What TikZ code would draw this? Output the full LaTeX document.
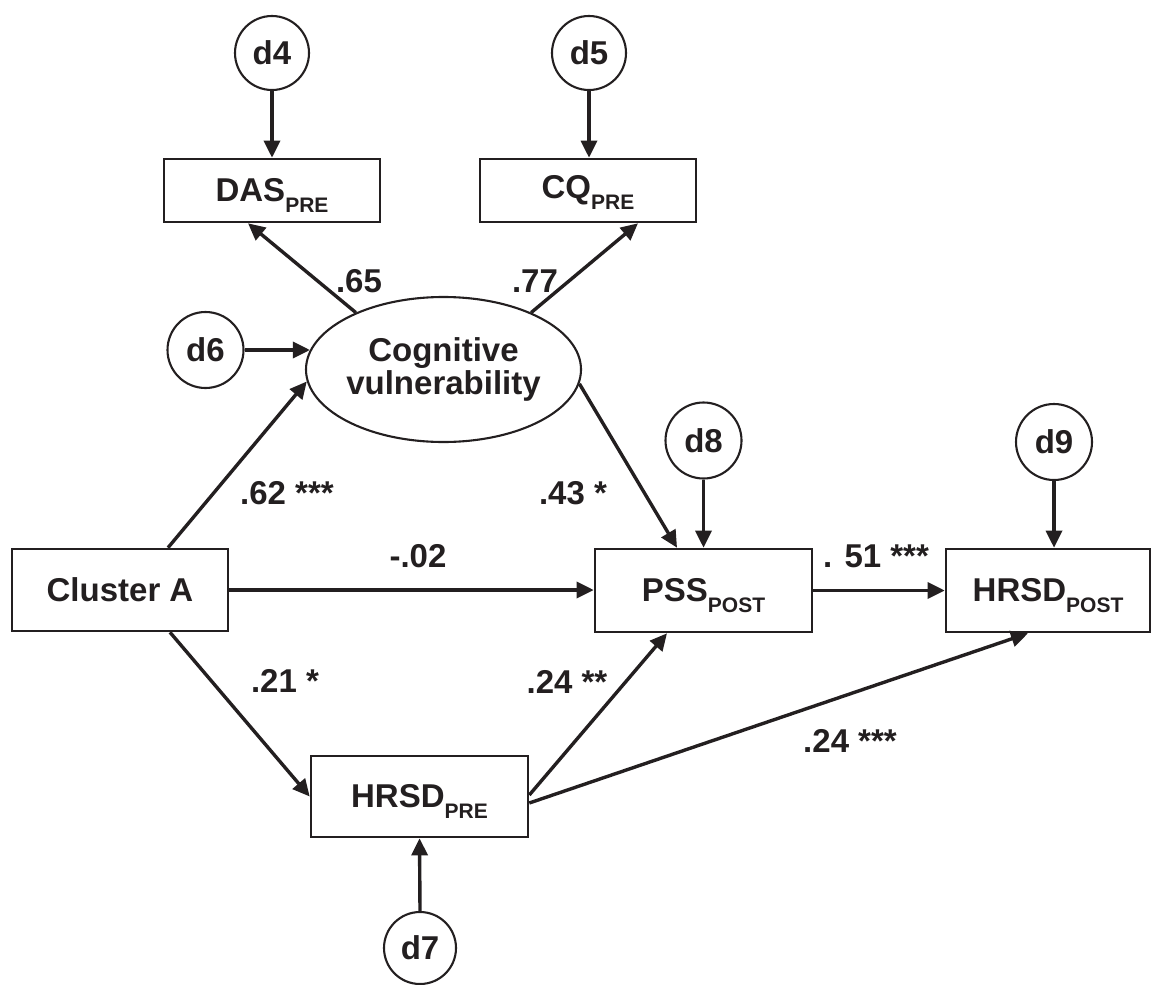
\documentclass[tikz,border=0pt]{standalone}
\usepackage{fontspec}
\setmainfont{Liberation Sans}
\usetikzlibrary{arrows.meta,shapes.geometric}
\definecolor{ink}{RGB}{35,31,32}
\newcommand\sbs[1]{\smash{\raisebox{-5.5pt}{\fontsize{10.5}{12}\selectfont #1}}}
\begin{document}
\begin{tikzpicture}[x=0.5pt,y=-0.5pt,
  font=\fontsize{16.5}{15}\selectfont\bfseries,
  boxnode/.style={draw=ink,line width=1.3pt,rectangle,inner sep=0pt,text=ink},
  dcirc/.style={draw=ink,circle,line width=1.05pt,minimum size=37pt,inner sep=0pt,text=ink},
  arr/.style={draw=ink,line width=1.7pt,-{Triangle[length=8.5pt,width=8pt]}},
  lbl/.style={anchor=base,text=ink,inner sep=0pt}]
\useasboundingbox (0,0) rectangle (1155,984);
% nodes
\node[dcirc] (d4) at (272,53) {d4};
\node[dcirc] (d5) at (589,53) {d5};
\node[boxnode,minimum width=108pt,minimum height=31.5pt] (das) at (272,190.5) {DAS\sbs{PRE}};
\node[boxnode,minimum width=108pt,minimum height=31.5pt] (cq) at (588,190.5) {CQ\sbs{PRE}};
\node[draw=ink,ellipse,line width=1.05pt,minimum width=137.5pt,minimum height=72.5pt,inner sep=0pt,align=center,text=ink] (cv) at (443.5,369.5) {Cognitive\\vulnerability};
\node[dcirc,minimum size=38pt] (d6) at (205.5,350) {d6};
\node[boxnode,minimum width=108pt,minimum height=41pt] (ca) at (120,590) {Cluster A};
\node[boxnode,minimum width=108.5pt,minimum height=41.5pt] (pss) at (703.5,590.5) {PSS\sbs{POST}};
\node[boxnode,minimum width=102pt,minimum height=41.5pt] (hpost) at (1048,590.5) {HRSD\sbs{POST}};
\node[dcirc,minimum size=38pt] (d8) at (703.5,440.5) {d8};
\node[dcirc,minimum size=38pt] (d9) at (1054,442) {d9};
\node[boxnode,minimum width=108.5pt,minimum height=40.5pt] (hpre) at (419.5,796.5) {HRSD\sbs{PRE}};
\node[dcirc,minimum size=36pt] (d7) at (420,948) {d7};
% connectors
\draw[arr] (d4.south) -- (das.north);
\draw[arr] (d5.south) -- (d5.south |- cq.north);
\draw[arr] (d6.east) -- ([xshift=2.5pt]cv.west |- d6.east);
\draw[arr] (cv.147) -- ([xshift=-12pt]das.south);
\draw[arr] (cv.33) -- ([xshift=25pt]cq.south);
\draw[arr] ([xshift=24pt]ca.north) -- (cv.185.7);
\draw[arr] (ca.east) -- (ca.east -| pss.west);
\draw[arr] ([xshift=25pt]ca.south) -- (hpre.west);
\draw[arr] (cv.-6.7) -- ([xshift=-13.25pt]pss.north);
\draw[arr] (d8.south) -- (pss.north);
\draw[arr] (d9.south) -- (d9.south |- hpost.north);
\draw[arr] (pss.east) -- (pss.east -| hpost.west);
\draw[arr] ([yshift=0.75pt]hpre.east) -- ([xshift=-18.25pt]pss.south);
\draw[arr] ([yshift=-3.25pt]hpre.east) -- ([xshift=-10pt]hpost.south);
\draw[arr] (d7.north) -- (hpre.south);
% labels
\node[lbl] (l65) at (359,292) {.65};
\node[lbl] (l77) at (535,292) {.77};
\node[lbl] (l62) at (287,504) {.62 ***};
\node[lbl] (l43) at (573,504) {.43 *};
\node[lbl] (l02) at (418,567) {-.02};
\node[lbl] (l51) at (876,567) {. 51 ***};
\node[lbl] (l21) at (285,692) {.21 *};
\node[lbl] (l24a) at (567,693) {.24 **};
\node[lbl] (l24b) at (850,752) {.24 ***};
\end{tikzpicture}
\end{document}
